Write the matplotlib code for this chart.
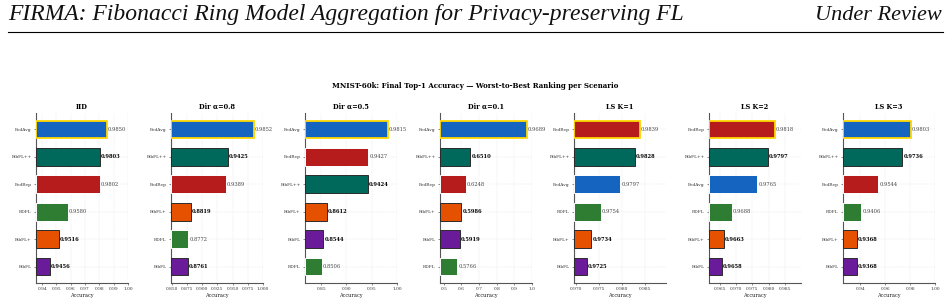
import numpy as np
import matplotlib
matplotlib.use("Agg")
import matplotlib.pyplot as plt
from matplotlib.lines import Line2D
from matplotlib.ticker import MaxNLocator

# scenarios (panel order) and final top-1 accuracy of each method
scenarios = ["IID", "Dir \u03b1=0.8", "Dir \u03b1=0.5", "Dir \u03b1=0.1", "LS K=1", "LS K=2", "LS K=3"]
methods = ["FedAvg", "FedRep", "RDFL", "FibFL", "FibFL+", "FibFL++"]

fedavg = [0.9850, 0.9852, 0.9815, 0.9689, 0.9797, 0.9765, 0.9803]
fedrep = [0.9802, 0.9389, 0.9427, 0.6248, 0.9839, 0.9818, 0.9544]
rdfl = [0.9580, 0.8772, 0.8506, 0.5766, 0.9754, 0.9688, 0.9406]
fibfl = [0.9456, 0.8761, 0.8544, 0.5919, 0.9725, 0.9658, 0.9368]
fibfl_p = [0.9516, 0.8819, 0.8612, 0.5986, 0.9734, 0.9663, 0.9368]
fibfl_pp = [0.9803, 0.9425, 0.9424, 0.6510, 0.9828, 0.9797, 0.9736]

colors = {"FedAvg": "#1565C0", "FedRep": "#B71C1C", "RDFL": "#2E7D32",
          "FibFL": "#6A1B9A", "FibFL+": "#E65100", "FibFL++": "#00695C"}
ours = ["FibFL", "FibFL+", "FibFL++"]

acc = np.array([fedavg, fedrep, rdfl, fibfl, fibfl_p, fibfl_pp])  # methods x scenarios

fig = plt.figure(figsize=(9.5, 3.04), dpi=100)

# paper page header
fig.text(8 / 950, 1 - 20 / 304, "FIRMA: Fibonacci Ring Model Aggregation for Privacy-preserving FL",
         family="Liberation Serif", style="italic", fontsize=17, va="baseline", ha="left", color="#111111")
fig.text(942 / 950, 1 - 20 / 304, "Under Review",
         family="Liberation Serif", style="italic", fontsize=16, va="baseline", ha="right", color="#111111")
fig.add_artist(Line2D([8 / 950, 943 / 950], [1 - 31.5 / 304, 1 - 31.5 / 304],
                      transform=fig.transFigure, color="black", lw=0.8))

serif = "DejaVu Serif"
fig.text(0.5, 1 - 86 / 304, "MNIST-60k: Final Top-1 Accuracy \u2014 Worst-to-Best Ranking per Scenario",
         family=serif, fontweight="bold", fontsize=5.0, ha="center", va="center")

lefts = [36, 171, 305, 440, 574, 709, 843]
for k, sc in enumerate(scenarios):
    ax = fig.add_axes([lefts[k] / 950, 1 - 283 / 304, 92 / 950, 170 / 304])
    vals = acc[:, k]
    order = np.argsort(vals, kind="stable")  # worst at the bottom
    names = [methods[i] for i in order]
    v = vals[order]
    span = v.max() - v.min()
    lo = v.min() - 0.25 * span
    hi = min(1.0, v.max() + 0.5 * span)
    y = np.arange(len(v))
    for j, (nm, val) in enumerate(zip(names, v)):
        if j == len(v) - 1:
            ec, lw = "#FFD700", 1.3
        elif nm in ours:
            ec, lw = "#2b2b2b", 0.7
        else:
            ec, lw = "white", 0.7
        ax.barh(y[j], val - lo, left=lo, height=0.65, color=colors[nm],
                edgecolor=ec, linewidth=lw, zorder=3)
        bold = nm in ours
        ax.text(val + 0.012 * (hi - lo), y[j], f"{val:.4f}", va="center", ha="left",
                family=serif, fontsize=3.7, fontweight="bold" if bold else "normal",
                color="black" if bold else "#444444", zorder=4)
    ax.set_xlim(lo, hi)
    ax.xaxis.set_major_locator(MaxNLocator(nbins=7, steps=[1, 2, 2.5, 5, 10]))
    ax.set_ylim(-0.6, len(v) - 0.4)
    ax.set_yticks(y)
    ax.set_yticklabels(names, family=serif, fontsize=3.2, color="#333333")
    for t in ax.get_xticklabels():
        t.set_family(serif)
    ax.tick_params(axis="x", labelsize=3.2, length=1.5, width=0.4, pad=1.5, colors="#333333")
    ax.tick_params(axis="y", length=1.5, width=0.4, pad=1.5, colors="#333333")
    ax.set_xlabel("Accuracy", family=serif, fontsize=3.6, labelpad=1.5, color="#222222")
    ax.set_title(sc, family=serif, fontweight="bold", fontsize=4.8, pad=3)
    ax.grid(True, linestyle="--", linewidth=0.3, alpha=0.35, zorder=0)
    ax.set_axisbelow(True)
    for s in ["top", "right"]:
        ax.spines[s].set_visible(False)
    for s in ["left", "bottom"]:
        ax.spines[s].set_color("#555555")
        ax.spines[s].set_linewidth(0.8)

fig.savefig("out.png", dpi=100, facecolor="white")
